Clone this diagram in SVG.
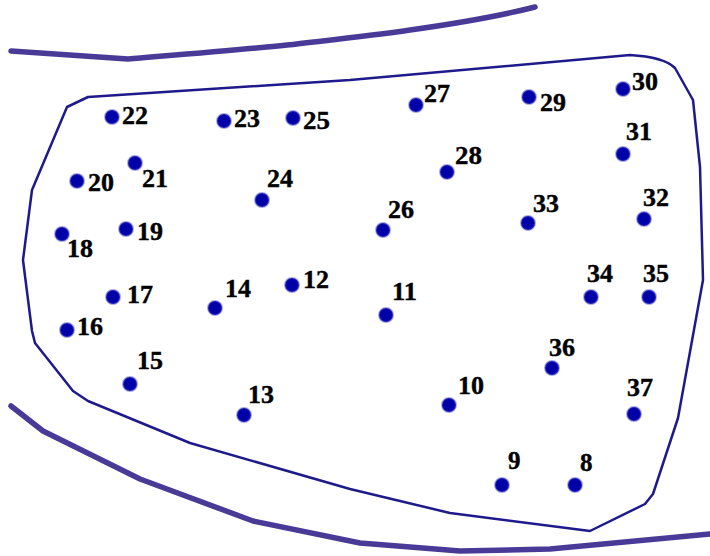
<svg xmlns="http://www.w3.org/2000/svg" width="710" height="556" viewBox="0 0 710 556">
<style>
.band{fill:none;stroke:#4a3a98;stroke-width:5.5;stroke-linejoin:round;stroke-linecap:round}
.outline{fill:none;stroke:#1e1a8c;stroke-width:2.5;stroke-linejoin:round}
.dot{fill:#0000a8;stroke:#4040c8;stroke-opacity:0.45;stroke-width:2}
</style>
<rect width="710" height="556" fill="#fff"/>
<g id="boundaries">
<path class="band" d="M11,51 L128,59 C200,53 250,49 287,45 C330,40 370,36 410,30 C460,23 500,16 535,7"/>
<path class="band" d="M11,406 L43,431 L140,479 L253,521 L360,543 L460,551 L550,549 L710,534"/>
<path class="outline" d="M88,97 L350,80 L630,55 Q664,57 675,68 L693,100 L700,167 L703,280 L678,418 L653,494 L645,504 L590,531 L450,513 L350,489 L190,443 L88,401 L73,391 L35,343 L32,331 L25,276 L23,260 L32,190 L67,107 Z"/>
</g>
<g id="nodes" font-family="'Liberation Serif', 'Times New Roman', serif" font-weight="bold" font-size="25" fill="#000" stroke="#000" stroke-width="0.4">
<g id="n8"><circle class="dot" cx="575" cy="485" r="7"/><text x="580" y="471">8</text></g>
<g id="n9"><circle class="dot" cx="502" cy="485" r="7"/><text x="508" y="469">9</text></g>
<g id="n10"><circle class="dot" cx="449" cy="405" r="7"/><text x="458" y="394" textLength="26" lengthAdjust="spacingAndGlyphs">10</text></g>
<g id="n11"><circle class="dot" cx="386" cy="315" r="7"/><text x="392" y="300" textLength="25" lengthAdjust="spacingAndGlyphs">11</text></g>
<g id="n12"><circle class="dot" cx="292" cy="285" r="7"/><text x="303" y="288" textLength="26" lengthAdjust="spacingAndGlyphs">12</text></g>
<g id="n13"><circle class="dot" cx="244" cy="415" r="7"/><text x="248" y="403" textLength="26" lengthAdjust="spacingAndGlyphs">13</text></g>
<g id="n14"><circle class="dot" cx="215" cy="308" r="7"/><text x="225" y="297" textLength="26" lengthAdjust="spacingAndGlyphs">14</text></g>
<g id="n15"><circle class="dot" cx="130" cy="384" r="7"/><text x="137" y="369" textLength="26" lengthAdjust="spacingAndGlyphs">15</text></g>
<g id="n16"><circle class="dot" cx="67" cy="330" r="7"/><text x="77" y="335" textLength="26" lengthAdjust="spacingAndGlyphs">16</text></g>
<g id="n17"><circle class="dot" cx="113" cy="297" r="7"/><text x="127" y="303" textLength="26" lengthAdjust="spacingAndGlyphs">17</text></g>
<g id="n18"><circle class="dot" cx="62" cy="234" r="7"/><text x="67" y="257" textLength="26" lengthAdjust="spacingAndGlyphs">18</text></g>
<g id="n19"><circle class="dot" cx="126" cy="229" r="7"/><text x="137" y="240" textLength="26" lengthAdjust="spacingAndGlyphs">19</text></g>
<g id="n20"><circle class="dot" cx="77" cy="181" r="7"/><text x="88" y="191" textLength="26" lengthAdjust="spacingAndGlyphs">20</text></g>
<g id="n21"><circle class="dot" cx="135" cy="163" r="7"/><text x="142" y="187" textLength="26" lengthAdjust="spacingAndGlyphs">21</text></g>
<g id="n22"><circle class="dot" cx="112" cy="117" r="7"/><text x="122" y="124" textLength="26" lengthAdjust="spacingAndGlyphs">22</text></g>
<g id="n23"><circle class="dot" cx="224" cy="121" r="7"/><text x="234" y="127" textLength="26" lengthAdjust="spacingAndGlyphs">23</text></g>
<g id="n24"><circle class="dot" cx="262" cy="200" r="7"/><text x="267" y="187" textLength="26" lengthAdjust="spacingAndGlyphs">24</text></g>
<g id="n25"><circle class="dot" cx="293" cy="118" r="7"/><text x="303" y="129" textLength="27" lengthAdjust="spacingAndGlyphs">25</text></g>
<g id="n26"><circle class="dot" cx="383" cy="230" r="7"/><text x="388" y="218" textLength="26" lengthAdjust="spacingAndGlyphs">26</text></g>
<g id="n27"><circle class="dot" cx="416" cy="105" r="7"/><text x="424" y="102" textLength="26" lengthAdjust="spacingAndGlyphs">27</text></g>
<g id="n28"><circle class="dot" cx="447" cy="172" r="7"/><text x="455" y="164" textLength="27" lengthAdjust="spacingAndGlyphs">28</text></g>
<g id="n29"><circle class="dot" cx="529" cy="97" r="7"/><text x="540" y="111" textLength="26" lengthAdjust="spacingAndGlyphs">29</text></g>
<g id="n30"><circle class="dot" cx="623" cy="89" r="7"/><text x="632" y="90" textLength="26" lengthAdjust="spacingAndGlyphs">30</text></g>
<g id="n31"><circle class="dot" cx="623" cy="154" r="7"/><text x="626" y="140" textLength="26" lengthAdjust="spacingAndGlyphs">31</text></g>
<g id="n32"><circle class="dot" cx="644" cy="219" r="7"/><text x="643" y="206" textLength="26" lengthAdjust="spacingAndGlyphs">32</text></g>
<g id="n33"><circle class="dot" cx="528" cy="223" r="7"/><text x="533" y="212" textLength="26" lengthAdjust="spacingAndGlyphs">33</text></g>
<g id="n34"><circle class="dot" cx="591" cy="297" r="7"/><text x="587" y="282" textLength="26" lengthAdjust="spacingAndGlyphs">34</text></g>
<g id="n35"><circle class="dot" cx="649" cy="297" r="7"/><text x="643" y="282" textLength="26" lengthAdjust="spacingAndGlyphs">35</text></g>
<g id="n36"><circle class="dot" cx="552" cy="368" r="7"/><text x="549" y="356" textLength="26" lengthAdjust="spacingAndGlyphs">36</text></g>
<g id="n37"><circle class="dot" cx="634" cy="414" r="7"/><text x="627" y="396" textLength="26" lengthAdjust="spacingAndGlyphs">37</text></g>
</g>
</svg>
